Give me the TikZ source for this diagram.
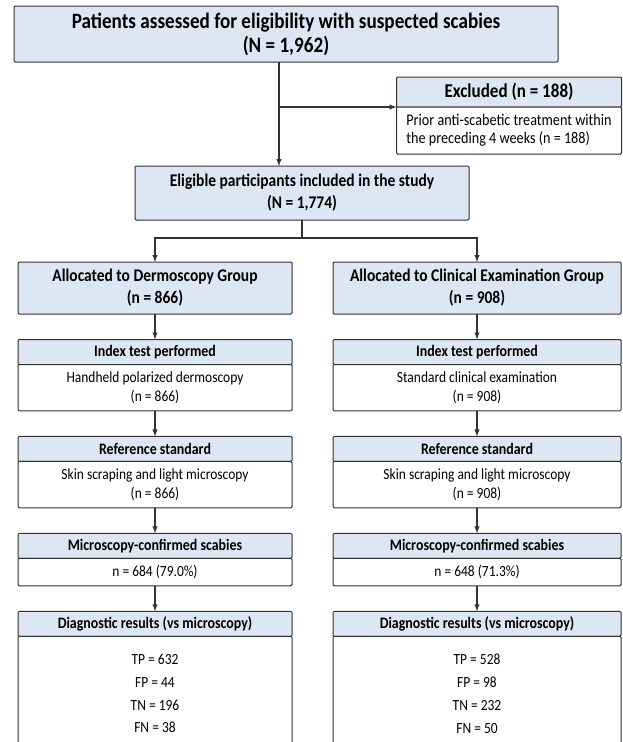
\documentclass[tikz,border=0pt]{standalone}
\usepackage{fontspec}
\setmainfont{Carlito}[FakeStretch=0.87]
\usepackage{xcolor}
\usepackage{tikz}
\usetikzlibrary{arrows}
\usetikzlibrary{positioning}

\definecolor{hdrblue}{RGB}{221,231,243}
\definecolor{edgegray}{RGB}{50,50,50}

\begin{document}
\begin{tikzpicture}[x=1pt,y=-1pt]
    \tikzstyle{every node}=[draw=edgegray,line width=1pt,outer sep=0pt,align=center,rounded corners=1.2pt]
    \tikzstyle{bigbox}=[fill=hdrblue,font=\bfseries\fontsize{17.8}{22}\selectfont]
    \tikzstyle{hbox}=[fill=hdrblue,minimum height=25pt,inner ysep=0pt,font=\bfseries\fontsize{16}{18}\selectfont]
    \tikzstyle{bbox}=[fill=white,inner ysep=7pt,font=\fontsize{15.5}{19.5}\selectfont]
    \tikzstyle{link}=[draw=edgegray,line width=1.4pt]
    \tikzstyle{arr}=[link,-latex]

    \useasboundingbox (0,0) rectangle (623,742) ;
    \clip (0,0) rectangle (623,742) ;

    \node[bigbox,minimum width=544pt,minimum height=56pt,font=\bfseries\fontsize{22}{24}\selectfont] (assess) at (286,34) {Patients assessed for eligibility with suspected scabies\\(N = 1,962)} ;
    \node[hbox,minimum width=225pt,minimum height=30pt,font=\bfseries\fontsize{19.6}{22}\selectfont] (excl) at (509,92) {Excluded (n = 188)} ;
    \node[bbox,below=0pt of excl,minimum width=225pt,minimum height=47pt,inner ysep=0pt,align=left,font=\fontsize{16.3}{18}\selectfont] (exclb) {Prior anti-scabetic treatment within\\the preceding 4 weeks (n = 188)} ;

    \node[bigbox,minimum width=334pt,minimum height=54pt,below=104pt of assess,xshift=16pt] (elig) {Eligible participants included in the study\\(N = 1,774)} ;

    \node[bigbox,minimum width=274pt,minimum height=52pt] (derm) at (155,288) {Allocated to Dermoscopy Group\\(n = 866)} ;
    \node[bigbox,minimum width=288pt,minimum height=52pt] (clin) at (477,288) {Allocated to Clinical Examination Group\\(n = 908)} ;

    \newcommand{\addstage}[6][]{%
      \node[hbox,minimum width=#4,below=25.5pt of #3] (#2) {#5} ;
      \node[bbox,minimum width=#4,below=0pt of #2,#1] (#2b) {#6} ;
      \draw[arr] (#3) -- (#2) ;}

    \addstage{dindex}{derm}{274pt}{Index test performed}{Handheld polarized dermoscopy\\(n = 866)}
    \addstage{dref}{dindexb}{274pt}{Reference standard}{Skin scraping and light microscopy\\(n = 866)}
    \addstage{dmic}{drefb}{274pt}{Microscopy-confirmed scabies}{n = 684 (79.0\%)}
    \addstage[inner ysep=18pt,font=\fontsize{15.5}{22.7}\selectfont]{ddiag}{dmicb}{274pt}{Diagnostic results (vs microscopy)}{TP = 632\\FP = 44\\TN = 196\\FN = 38}

    \addstage{cindex}{clin}{288pt}{Index test performed}{Standard clinical examination\\(n = 908)}
    \addstage{cref}{cindexb}{288pt}{Reference standard}{Skin scraping and light microscopy\\(n = 908)}
    \addstage{cmic}{crefb}{288pt}{Microscopy-confirmed scabies}{n = 648 (71.3\%)}
    \addstage[inner ysep=18pt,font=\fontsize{15.5}{22.7}\selectfont]{cdiag}{cmicb}{288pt}{Diagnostic results (vs microscopy)}{TP = 528\\FP = 98\\TN = 232\\FN = 50}

    % exclusion branch
    \coordinate[below=0pt of assess,xshift=-7pt] (trunk) ;
    \draw[arr] (trunk) -- (trunk |- elig.north) ;
    \draw[arr] (trunk |- exclb.north) -- (exclb.north west) ;

    % split into the two groups
    \coordinate[below=18pt of elig] (split) ;
    \draw[link] (elig) -- (split) ;
    \draw[arr] (split) -| (derm) ;
    \draw[arr] (split) -| (clin) ;
\end{tikzpicture}
\end{document}
